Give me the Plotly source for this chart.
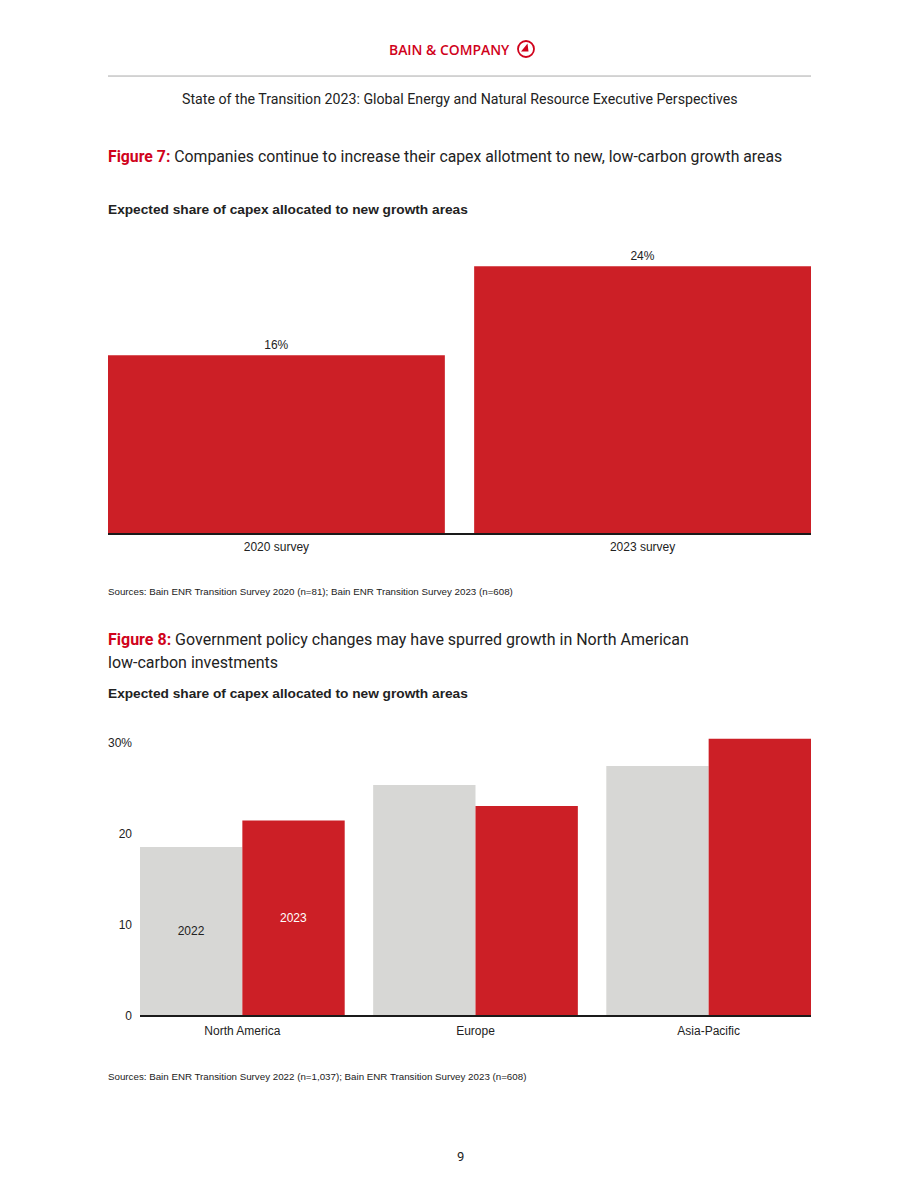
import plotly.graph_objects as go

# ---- data ----
fig7_categories = ["2020 survey", "2023 survey"]
fig7_values = [16, 24]

fig8_regions = ["North America", "Europe", "Asia-Pacific"]
fig8_2022 = [18.5, 25.3, 27.4]
fig8_2023 = [21.4, 23.0, 30.4]
fig8_tickvals = [0, 10, 20, 30]
fig8_ticktext = ["0", "10", "20", "30%"]

RED = "#CC1F26"
BRAND = "#D0021B"
GREY = "#D7D7D5"
TXT = "#222222"
W, H = 920, 1191
H_EFF = 1183.5  # measured effective rendering height


def px(x):
    return x / W


def py(y):
    return 1 - y / H_EFF


fig = go.Figure()

fig.add_trace(go.Bar(
    x=fig7_categories, y=fig7_values, marker_color=RED, marker_line_width=0,
    texttemplate="%{y}%", textposition="outside", cliponaxis=False,
    textfont=dict(family="Liberation Sans, Arial", size=12, color=TXT),
    xaxis="x", yaxis="y", showlegend=False, hoverinfo="skip"))

fig.add_trace(go.Bar(
    x=fig8_regions, y=fig8_2022, marker_color=GREY, marker_line_width=0,
    text=["2022", "", ""], textposition="inside", insidetextanchor="middle", textangle=0,
    textfont=dict(family="Liberation Sans, Arial", size=12, color=TXT),
    xaxis="x2", yaxis="y2", showlegend=False, hoverinfo="skip",
    width=0.439, offset=-0.439))
fig.add_trace(go.Bar(
    x=fig8_regions, y=fig8_2023, marker_color=RED, marker_line_width=0,
    text=["2023", "", ""], textposition="inside", insidetextanchor="middle", textangle=0,
    textfont=dict(family="Liberation Sans, Arial", size=12, color="white"),
    xaxis="x2", yaxis="y2", showlegend=False, hoverinfo="skip",
    width=0.439, offset=0.0))

tickfont = dict(family="Liberation Sans, Arial", size=12, color=TXT)

fig.update_layout(
    width=W, height=H, margin=dict(l=0, r=0, t=0, b=0),
    paper_bgcolor="white", plot_bgcolor="white",
    barmode="overlay", bargap=0.08, bargroupgap=0,
    xaxis=dict(domain=[px(108), px(811)], range=[-0.46, 1.46], anchor="y",
               showline=True, linecolor="#1a1a1a", linewidth=1.5, ticks="",
               ticklabelstandoff=2,
               showgrid=False, tickfont=tickfont, fixedrange=True),
    yaxis=dict(domain=[py(533), py(250)], range=[0, 25.44], anchor="x",
               visible=False, showgrid=False, fixedrange=True),
    xaxis2=dict(domain=[px(140), px(811)], range=[-0.439, 2.439], anchor="y2",
                showline=True, linecolor="#1a1a1a", linewidth=1.5, ticks="",
                ticklabelstandoff=3,
                showgrid=False, tickfont=tickfont, fixedrange=True),
    yaxis2=dict(domain=[py(1015), py(735)], range=[0, 30.77], anchor="x2",
                tickvals=fig8_tickvals, ticktext=fig8_ticktext, ticks="",
                ticklabelstandoff=7,
                showgrid=False, zeroline=False, showline=False,
                tickfont=tickfont, fixedrange=True),
)


def note(x, y, text, size, family="Liberation Sans, Arial", color=TXT, xanchor="left"):
    return dict(x=px(x), y=py(y), xref="paper", yref="paper", text=text,
                showarrow=False, font=dict(family=family, size=size, color=color),
                xanchor=xanchor, yanchor="middle", align="left", borderpad=0)


ROB = "Roboto, Liberation Sans"
ann = [
    note(449, 49, "BAIN &amp; COMPANY", 13.9, family="Open Sans, Liberation Sans",
         color=BRAND, xanchor="center"),
    note(460, 99, "State of the Transition 2023: Global Energy and Natural Resource Executive Perspectives",
         14.2, family=ROB, xanchor="center"),
    note(107, 156, "<b><span style='color:#D0021B'>Figure 7:</span></b> Companies continue to increase their capex allotment to new, low-carbon growth areas",
         15.8, family=ROB),
    note(107, 209, "<b>Expected share of capex allocated to new growth areas</b>", 13.7),
    note(107, 591, "Sources: Bain ENR Transition Survey 2020 (n=81); Bain ENR Transition Survey 2023 (n=608)", 9.75),
    note(107, 639, "<b><span style='color:#D0021B'>Figure 8:</span></b> Government policy changes may have spurred growth in North American",
         16, family=ROB),
    note(107, 662, "low-carbon investments", 16, family=ROB),
    note(107, 693, "<b>Expected share of capex allocated to new growth areas</b>", 13.7),
    note(107, 1076, "Sources: Bain ENR Transition Survey 2022 (n=1,037); Bain ENR Transition Survey 2023 (n=608)", 9.75),
    note(460, 1156, "9", 13, family=ROB, xanchor="center"),
]
fig.update_layout(annotations=ann)
fig.layout.annotations[0].font.weight = 600

shapes = [
    dict(type="line", xref="paper", yref="paper", x0=px(108), x1=px(811), y0=py(76), y1=py(76),
         line=dict(color="#AAAAAA", width=1)),
    dict(type="circle", xref="paper", yref="paper", x0=px(518), x1=px(534), y0=py(57), y1=py(41),
         line=dict(color=BRAND, width=1.8)),
    dict(type="path", xref="paper", yref="paper",
         path=f"M {px(527.5)} {py(43.5)} L {px(521)} {py(51.5)} L {px(528.5)} {py(51.5)} Z",
         fillcolor=BRAND, line=dict(width=0)),
]
fig.update_layout(shapes=shapes)

fig.write_html("out.html")
